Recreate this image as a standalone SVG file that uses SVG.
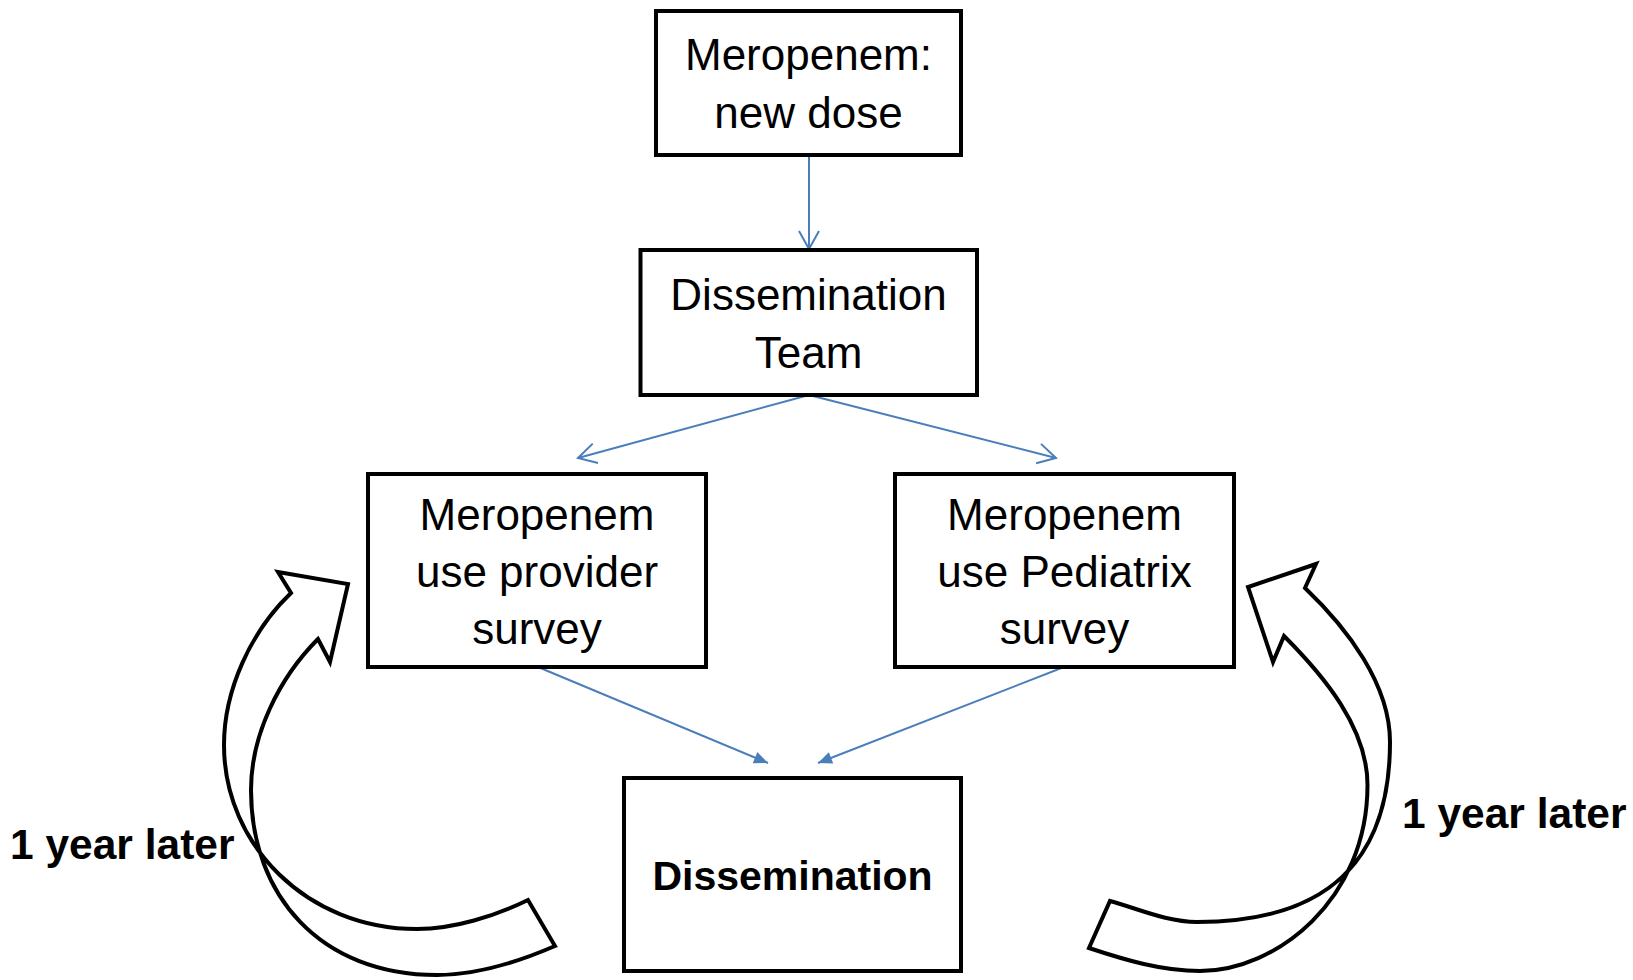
<svg xmlns="http://www.w3.org/2000/svg" width="1633" height="980" viewBox="0 0 1633 980">
<style>
  .box { fill: #ffffff; stroke: #000000; stroke-width: 4; }
  .txt { font-family: "Liberation Sans", Arial, sans-serif; font-size: 44px; fill: #000000; text-anchor: middle; }
  .bold { font-family: "Liberation Sans", Arial, sans-serif; font-size: 41px; font-weight: bold; fill: #000000; }
  .label { font-family: "Liberation Sans", Arial, sans-serif; font-size: 42.5px; font-weight: bold; fill: #000000; }
  .conn { fill: none; stroke: #4a7ebb; stroke-width: 2; }
  .curve { fill: #ffffff; stroke: #000000; stroke-width: 4; stroke-linejoin: miter; }
</style>
<defs>
  <marker id="open" viewBox="-20 -12 22 24" refX="0" refY="0" markerWidth="22" markerHeight="24" orient="auto" markerUnits="userSpaceOnUse">
    <path d="M-18,-10 L0,0 L-18,10" fill="none" stroke="#4a7ebb" stroke-width="2"/>
  </marker>
  <marker id="solid" viewBox="-15 -8 16 16" refX="0" refY="0" markerWidth="16" markerHeight="16" orient="auto" markerUnits="userSpaceOnUse">
    <path d="M-14,-6 L0,0 L-14,6 Z" fill="#4a7ebb"/>
  </marker>
</defs>
<rect width="1633" height="980" fill="#ffffff"/>

<g id="connectors">
  <line class="conn" x1="809" y1="155" x2="809" y2="249" marker-end="url(#open)"/>
  <line class="conn" x1="809" y1="395" x2="578" y2="458" marker-end="url(#open)"/>
  <line class="conn" x1="809" y1="395" x2="1056" y2="458" marker-end="url(#open)"/>
  <line class="conn" x1="538" y1="667" x2="768" y2="763" marker-end="url(#solid)"/>
  <line class="conn" x1="1064" y1="667" x2="818" y2="763" marker-end="url(#solid)"/>
</g>

<g id="loop-left">
  <path class="curve" d="M318,639 C279,678 251,735 251,790 C251,895 320,975 437,975 C477,975 518,962 555,946 L528,900 C495,916 454,929 417,929 C307,929 224,845 224,745 C224,690 251,631 291,593 L278,572 L348,584 L330,662 Z"/>
  <text class="label" x="10" y="859">1 year later</text>
</g>

<g id="loop-right">
  <path class="curve" d="M1284,636 C1324,676 1367.5,728 1367.5,785 C1367.5,900 1276,971 1200,971 C1162,971 1125,960 1089,948 L1110,901 C1139,909 1167,922 1197,922 C1327,922 1390,862 1390,742 C1390,684 1347,628 1305,588 L1316,564 L1248,587 L1273,662 Z"/>
  <text class="label" x="1402" y="828">1 year later</text>
</g>

<g id="node-new-dose">
  <rect class="box" x="656" y="11" width="305" height="144"/>
  <text class="txt" x="808.5" y="70">Meropenem:</text>
  <text class="txt" x="808.5" y="128">new dose</text>
</g>

<g id="node-team">
  <rect class="box" x="640.5" y="250" width="336.5" height="145"/>
  <text class="txt" x="808.5" y="310">Dissemination</text>
  <text class="txt" x="808.5" y="368">Team</text>
</g>

<g id="node-provider">
  <rect class="box" x="368" y="474" width="338" height="193"/>
  <text class="txt" x="537" y="530">Meropenem</text>
  <text class="txt" x="537" y="587">use provider</text>
  <text class="txt" x="537" y="644">survey</text>
</g>

<g id="node-pediatrix">
  <rect class="box" x="895" y="474" width="339" height="193"/>
  <text class="txt" x="1064.5" y="530">Meropenem</text>
  <text class="txt" x="1064.5" y="587">use Pediatrix</text>
  <text class="txt" x="1064.5" y="644">survey</text>
</g>

<g id="node-dissemination">
  <rect class="box" x="624" y="778" width="337" height="193"/>
  <text class="bold" x="792.5" y="890" text-anchor="middle">Dissemination</text>
</g>
</svg>
